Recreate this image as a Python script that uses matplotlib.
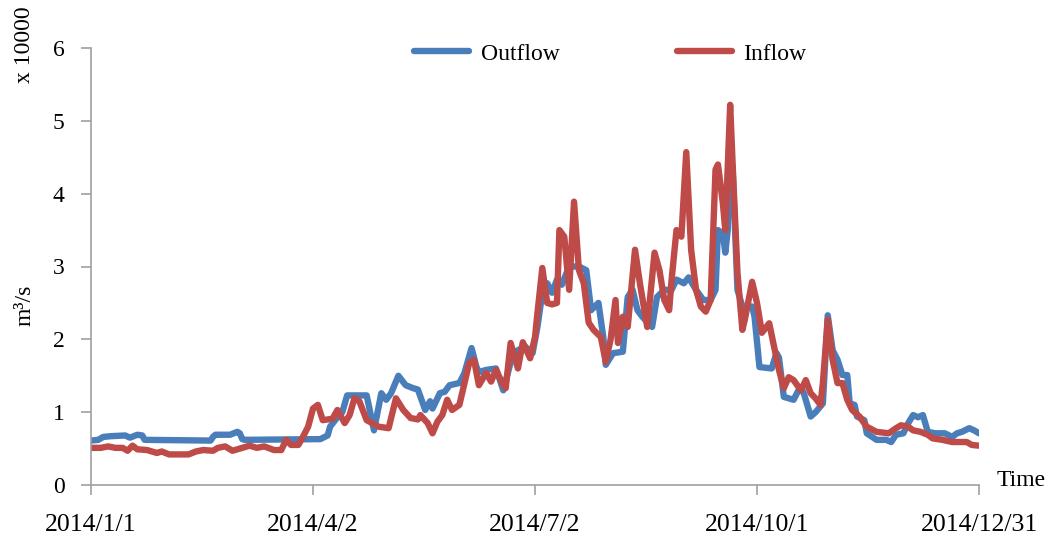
import matplotlib
matplotlib.use("Agg")
import matplotlib.pyplot as plt
import pandas as pd

plt.rcParams['font.family'] = ['Liberation Serif', 'DejaVu Serif']

# daily flow (day number from 2014/1/1, value in 10000 m3/s)
out_days = [0, 3, 5, 8, 14, 16, 19, 21, 22, 49, 50, 51, 57, 60, 61, 62, 63, 94,
            97, 98, 101, 103, 105, 113, 116, 119, 121, 123, 126, 129, 132, 134,
            137, 139, 140, 143, 145, 147, 151, 153, 156, 158, 159, 162, 166,
            169, 173, 175, 178, 181, 183, 185, 187, 189, 191, 193, 196, 200,
            203, 205, 208, 210, 211, 214, 218, 220, 222, 224, 226, 229, 230,
            232, 235, 238, 240, 243, 245, 248, 251, 254, 256, 257, 259, 260,
            261, 262, 263, 264, 265, 267, 271, 272, 274, 279, 281, 282, 284,
            288, 290, 292, 295, 297, 300, 302, 304, 306, 308, 310, 311, 313,
            314, 317, 318, 322, 326, 328, 330, 333, 335, 337, 339, 341, 343,
            346, 350, 353, 355, 357, 360, 362, 364]
out_vals = [0.61, 0.62, 0.66, 0.67, 0.68, 0.65, 0.69, 0.68, 0.62, 0.61, 0.66,
            0.69, 0.69, 0.73, 0.71, 0.63, 0.62, 0.63, 0.68, 0.80, 0.93, 1.00,
            1.23, 1.23, 0.75, 1.26, 1.17, 1.26, 1.50, 1.37, 1.33, 1.31, 1.03,
            1.15, 1.05, 1.26, 1.28, 1.37, 1.40, 1.53, 1.88, 1.62, 1.55, 1.58,
            1.60, 1.30, 1.81, 1.85, 1.90, 1.81, 2.17, 2.64, 2.77, 2.64, 2.82,
            2.75, 3.00, 3.00, 2.95, 2.40, 2.50, 2.03, 1.65, 1.81, 1.83, 2.58,
            2.68, 2.40, 2.31, 2.20, 2.17, 2.58, 2.68, 2.68, 2.82, 2.77, 2.85,
            2.68, 2.54, 2.54, 2.68, 3.50, 3.45, 3.19, 3.50, 4.60, 4.33, 3.50,
            2.68, 2.45, 2.45, 2.31, 1.62, 1.60, 1.81, 1.75, 1.21, 1.17, 1.30,
            1.28, 0.94, 1.00, 1.12, 2.33, 1.85, 1.72, 1.51, 1.51, 1.12, 1.10,
            0.94, 0.89, 0.71, 0.62, 0.62, 0.59, 0.69, 0.71, 0.85, 0.96, 0.93,
            0.96, 0.73, 0.71, 0.71, 0.66, 0.71, 0.73, 0.78, 0.75, 0.71]

in_days = [0, 4, 7, 10, 13, 15, 17, 19, 23, 27, 29, 32, 40, 43, 46, 50, 52, 55,
           58, 62, 65, 68, 71, 75, 78, 80, 82, 85, 87, 89, 91, 93, 95, 99, 101,
           104, 106, 108, 110, 113, 118, 122, 125, 128, 131, 134, 135, 138,
           140, 142, 144, 146, 148, 151, 155, 157, 159, 162, 164, 166, 169,
           170, 172, 175, 177, 180, 182, 183, 185, 187, 189, 191, 192, 194,
           196, 198, 200, 202, 204, 206, 209, 211, 213, 215, 216, 218, 220,
           223, 225, 228, 231, 233, 235, 237, 238, 240, 242, 244, 246, 248,
           250, 252, 254, 256, 257, 259, 260, 262, 263, 265, 267, 268, 271,
           273, 275, 278, 280, 282, 284, 286, 288, 291, 293, 295, 297, 299,
           300, 302, 304, 306, 308, 310, 312, 315, 318, 322, 327, 330, 332,
           335, 337, 340, 343, 345, 349, 353, 359, 361, 364]
in_vals = [0.51, 0.51, 0.53, 0.51, 0.51, 0.47, 0.54, 0.49, 0.48, 0.44, 0.46,
           0.42, 0.42, 0.46, 0.48, 0.47, 0.51, 0.53, 0.47, 0.51, 0.54, 0.51,
           0.53, 0.48, 0.48, 0.62, 0.55, 0.55, 0.67, 0.80, 1.05, 1.10, 0.89,
           0.91, 1.03, 0.85, 0.96, 1.19, 1.15, 0.89, 0.80, 0.78, 1.19, 1.03,
           0.92, 0.90, 0.96, 0.85, 0.71, 0.87, 0.96, 1.17, 1.03, 1.10, 1.67,
           1.72, 1.37, 1.54, 1.42, 1.58, 1.37, 1.33, 1.95, 1.60, 1.96, 1.74,
           2.03, 2.36, 2.98, 2.50, 2.48, 2.50, 3.50, 3.41, 2.68, 3.89, 2.95,
           2.77, 2.23, 2.13, 2.03, 1.69, 2.00, 2.54, 1.95, 2.31, 2.17, 3.23,
           2.77, 2.17, 3.19, 2.95, 2.54, 2.40, 2.82, 3.50, 3.41, 4.57, 3.23,
           2.68, 2.45, 2.38, 2.54, 4.33, 4.40, 3.87, 3.50, 5.22, 4.42, 2.91,
           2.13, 2.27, 2.79, 2.50, 2.09, 2.22, 1.90, 1.58, 1.33, 1.48, 1.44,
           1.30, 1.44, 1.26, 1.19, 1.10, 1.40, 2.27, 1.72, 1.40, 1.40, 1.17,
           1.03, 0.94, 0.80, 0.73, 0.71, 0.78, 0.82, 0.80, 0.75, 0.73, 0.69,
           0.64, 0.62, 0.59, 0.59, 0.55, 0.54]

tick_days = [0, 91, 182, 273, 364]

start = pd.Timestamp('2014-01-01')
out_dates = start + pd.to_timedelta(out_days, unit='D')
in_dates = start + pd.to_timedelta(in_days, unit='D')
tick_dates = start + pd.to_timedelta(tick_days, unit='D')

fig = plt.figure(figsize=(10.56, 5.4), dpi=100)
ax = fig.add_axes([91/1056, 1 - 485/540, (979 - 91)/1056, (485 - 48)/540])

ax.plot(out_dates, out_vals, color='#4A7EBB', lw=4.6, label='Outflow',
        solid_capstyle='round', solid_joinstyle='round')
ax.plot(in_dates, in_vals, color='#BE4B48', lw=4.6, label='Inflow',
        solid_capstyle='round', solid_joinstyle='round')

ax.set_xlim(tick_dates[0], tick_dates[-1])
ax.set_ylim(0, 6)
ax.set_xticks(tick_dates)
ax.set_xticklabels([f"{d.year}/{d.month}/{d.day}" for d in tick_dates])
ax.set_yticks(range(7))

for s in ['top', 'right']:
    ax.spines[s].set_visible(False)
for s in ['left', 'bottom']:
    ax.spines[s].set_color('#A0A0A0')
    ax.spines[s].set_linewidth(1.2)
ax.tick_params(axis='both', colors='#A0A0A0', labelcolor='black',
               labelsize=17, length=7, width=1.2, direction='out')
ax.tick_params(axis='x', pad=14, labelsize=18.5)
ax.tick_params(axis='y', pad=12)

fig.text(25/1056, 1 - 305/540, 'm³/s', rotation=90, fontsize=17,
         ha='center', va='center')
fig.text(25/1056, 1 - 45/540, 'x 10000', rotation=90, fontsize=17,
         ha='center', va='center')
fig.text(1021/1056, 1 - 480/540, 'Time', fontsize=17, ha='center',
         va='center')

ax.legend(loc='upper center', bbox_to_anchor=(0.585, 1.06), ncol=2,
          frameon=False, fontsize=17, handlelength=2.3, handletextpad=0.5,
          columnspacing=5.0)

fig.savefig('out.png', dpi=100)
